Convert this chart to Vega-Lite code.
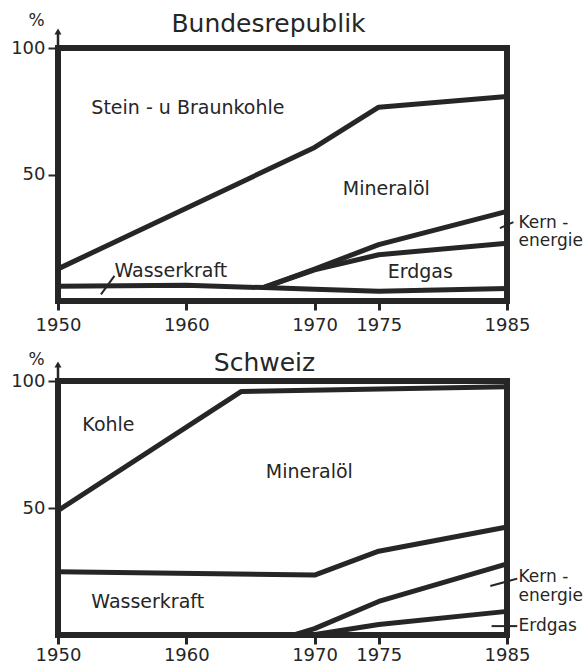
{
  "$schema": "https://vega.github.io/schema/vega-lite/v6.json",
  "background": "white",
  "padding": {"left": 7, "top": 8, "right": 0, "bottom": 0},
  "spacing": 10,
  "config": {
    "font": "DejaVu Sans",
    "view": {"stroke": "#262626", "strokeWidth": 6},
    "axis": {"grid": false, "domain": false, "tickColor": "#262626", "labelColor": "#262626", "labelFont": "DejaVu Sans", "labelFontSize": 18, "titleColor": "#262626", "titleFont": "DejaVu Sans", "titleFontWeight": "normal"},
    "title": {"fontSize": 25, "fontWeight": "normal", "color": "#262626", "font": "DejaVu Sans"},
    "text": {"font": "DejaVu Sans", "fontSize": 19, "color": "#262626"}
  },
  "datasets": {
    "lines": [
      {"panel": "B", "series": "Wasserkraft", "year": 1950, "value": 5.8},
      {"panel": "B", "series": "Wasserkraft", "year": 1960, "value": 6.2},
      {"panel": "B", "series": "Wasserkraft", "year": 1966, "value": 5.3},
      {"panel": "B", "series": "Wasserkraft", "year": 1970, "value": 4.6},
      {"panel": "B", "series": "Wasserkraft", "year": 1975, "value": 3.9},
      {"panel": "B", "series": "Wasserkraft", "year": 1985, "value": 4.9},
      {"panel": "B", "series": "Erdgas", "year": 1966, "value": 5.3},
      {"panel": "B", "series": "Erdgas", "year": 1970, "value": 12.3},
      {"panel": "B", "series": "Erdgas", "year": 1975, "value": 18.3},
      {"panel": "B", "series": "Erdgas", "year": 1985, "value": 22.8},
      {"panel": "B", "series": "Kernenergie", "year": 1966, "value": 5.3},
      {"panel": "B", "series": "Kernenergie", "year": 1970, "value": 12.6},
      {"panel": "B", "series": "Kernenergie", "year": 1975, "value": 22.3},
      {"panel": "B", "series": "Kernenergie", "year": 1985, "value": 35.4},
      {"panel": "B", "series": "Mineralöl", "year": 1950, "value": 12.7},
      {"panel": "B", "series": "Mineralöl", "year": 1970, "value": 60.7},
      {"panel": "B", "series": "Mineralöl", "year": 1975, "value": 76.6},
      {"panel": "B", "series": "Mineralöl", "year": 1985, "value": 80.8},
      {"panel": "S", "series": "Mineralöl", "year": 1950, "value": 49},
      {"panel": "S", "series": "Mineralöl", "year": 1964.3, "value": 95.9},
      {"panel": "S", "series": "Mineralöl", "year": 1985, "value": 97.7},
      {"panel": "S", "series": "Wasserkraft", "year": 1950, "value": 24.9},
      {"panel": "S", "series": "Wasserkraft", "year": 1970, "value": 23.6},
      {"panel": "S", "series": "Wasserkraft", "year": 1975, "value": 33},
      {"panel": "S", "series": "Wasserkraft", "year": 1985, "value": 42.5},
      {"panel": "S", "series": "Kernenergie", "year": 1968.4, "value": 0},
      {"panel": "S", "series": "Kernenergie", "year": 1970, "value": 2.5},
      {"panel": "S", "series": "Kernenergie", "year": 1975, "value": 13.2},
      {"panel": "S", "series": "Kernenergie", "year": 1985, "value": 28},
      {"panel": "S", "series": "Erdgas", "year": 1969.8, "value": 0},
      {"panel": "S", "series": "Erdgas", "year": 1975, "value": 4.1},
      {"panel": "S", "series": "Erdgas", "year": 1985, "value": 9.3}
    ],
    "labels": [
      {"panel": "B", "text": "Stein - u  Braunkohle", "year": 1952.6, "value": 76.3},
      {"panel": "B", "text": "Mineralöl", "year": 1972.2, "value": 44.3},
      {"panel": "B", "text": "Erdgas", "year": 1975.7, "value": 11.5},
      {"panel": "B", "text": "Wasserkraft", "year": 1954.4, "value": 12},
      {"panel": "B", "text": "Kern -", "year": 1985.9, "value": 31},
      {"panel": "B", "text": "energie", "year": 1985.9, "value": 23.6},
      {"panel": "S", "text": "Kohle", "year": 1951.9, "value": 82.7},
      {"panel": "S", "text": "Mineralöl", "year": 1966.2, "value": 64.3},
      {"panel": "S", "text": "Wasserkraft", "year": 1952.6, "value": 12.8},
      {"panel": "S", "text": "Kern -", "year": 1985.9, "value": 22.8},
      {"panel": "S", "text": "energie", "year": 1985.9, "value": 15.4},
      {"panel": "S", "text": "Erdgas", "year": 1985.9, "value": 3.4}
    ],
    "leaders": [
      {"panel": "B", "year": 1953.35, "value": 2.6, "year2": 1954.4, "value2": 9.9},
      {"panel": "B", "year": 1984.45, "value": 28.8, "year2": 1985.5, "value2": 31.2},
      {"panel": "S", "year": 1983.7, "value": 19.3, "year2": 1985.8, "value2": 22.2},
      {"panel": "S", "year": 1983.8, "value": 3.5, "year2": 1985.8, "value2": 3.5}
    ],
    "arrow": [
      {"year": 1950, "value": 100, "value2": 106.5}
    ]
  },
  "vconcat": [
    {
      "title": {"text": "Bundesrepublik", "dx": -14, "dy": 30},
      "width": 449,
      "height": 253,
      "layer": [
        {
          "data": {"name": "lines"},
          "transform": [{"filter": "datum.panel == 'B'"}],
          "mark": {"type": "line", "strokeWidth": 5, "color": "#262626", "strokeJoin": "round"},
          "encoding": {
            "x": {"field": "year", "type": "quantitative", "scale": {"domain": [1950, 1985], "nice": false, "zero": false},
                  "axis": {"values": [1950, 1960, 1970, 1975, 1985], "format": "d", "tickSize": 9, "tickWidth": 3, "labelPadding": 6, "title": null, "labelFlush": false}},
            "y": {"field": "value", "type": "quantitative", "scale": {"domain": [0, 100], "nice": false},
                  "axis": {"values": [50, 100], "tickSize": 10, "tickWidth": 2, "labelPadding": 3, "title": "%", "titleAngle": 0, "titleX": -22, "titleY": -28, "titleAlign": "center", "titleBaseline": "middle", "titleFontSize": 17}},
            "detail": {"field": "series"}
          }
        },
        {
          "data": {"name": "labels"},
          "transform": [{"filter": "datum.panel == 'B' && datum.year < 1985"}],
          "mark": {"type": "text", "align": "left", "baseline": "middle"},
          "encoding": {
            "x": {"field": "year", "type": "quantitative"},
            "y": {"field": "value", "type": "quantitative"},
            "text": {"field": "text"}
          }
        },
        {
          "data": {"name": "labels"},
          "transform": [{"filter": "datum.panel == 'B' && datum.year > 1985"}],
          "mark": {"type": "text", "align": "left", "baseline": "middle", "fontSize": 17},
          "encoding": {
            "x": {"field": "year", "type": "quantitative"},
            "y": {"field": "value", "type": "quantitative"},
            "text": {"field": "text"}
          }
        },
        {
          "data": {"name": "leaders"},
          "transform": [{"filter": "datum.panel == 'B'"}],
          "mark": {"type": "rule", "strokeWidth": 2, "color": "#262626"},
          "encoding": {
            "x": {"field": "year", "type": "quantitative"},
            "x2": {"field": "year2"},
            "y": {"field": "value", "type": "quantitative"},
            "y2": {"field": "value2"}
          }
        },
        {
          "data": {"name": "arrow"},
          "mark": {"type": "rule", "strokeWidth": 2.5, "color": "#262626"},
          "encoding": {
            "x": {"field": "year", "type": "quantitative"},
            "y": {"field": "value", "type": "quantitative"},
            "y2": {"field": "value2"}
          }
        },
        {
          "data": {"name": "arrow"},
          "mark": {"type": "point", "shape": "triangle-up", "filled": true, "size": 50, "color": "#262626", "opacity": 1},
          "encoding": {
            "x": {"field": "year", "type": "quantitative"},
            "y": {"field": "value2", "type": "quantitative"}
          }
        }
      ]
    },
    {
      "title": {"text": "Schweiz", "dx": -18, "dy": 30},
      "width": 449,
      "height": 254,
      "layer": [
        {
          "data": {"name": "lines"},
          "transform": [{"filter": "datum.panel == 'S'"}],
          "mark": {"type": "line", "strokeWidth": 5, "color": "#262626", "strokeJoin": "round"},
          "encoding": {
            "x": {"field": "year", "type": "quantitative", "scale": {"domain": [1950, 1985], "nice": false, "zero": false},
                  "axis": {"values": [1950, 1960, 1970, 1975, 1985], "format": "d", "tickSize": 9, "tickWidth": 3, "labelPadding": 2, "title": null, "labelFlush": false}},
            "y": {"field": "value", "type": "quantitative", "scale": {"domain": [0, 100], "nice": false},
                  "axis": {"values": [50, 100], "tickSize": 10, "tickWidth": 2, "labelPadding": 3, "title": "%", "titleAngle": 0, "titleX": -22, "titleY": -22, "titleAlign": "center", "titleBaseline": "middle", "titleFontSize": 17}},
            "detail": {"field": "series"}
          }
        },
        {
          "data": {"name": "labels"},
          "transform": [{"filter": "datum.panel == 'S' && datum.year < 1985"}],
          "mark": {"type": "text", "align": "left", "baseline": "middle"},
          "encoding": {
            "x": {"field": "year", "type": "quantitative"},
            "y": {"field": "value", "type": "quantitative"},
            "text": {"field": "text"}
          }
        },
        {
          "data": {"name": "labels"},
          "transform": [{"filter": "datum.panel == 'S' && datum.year > 1985"}],
          "mark": {"type": "text", "align": "left", "baseline": "middle", "fontSize": 17},
          "encoding": {
            "x": {"field": "year", "type": "quantitative"},
            "y": {"field": "value", "type": "quantitative"},
            "text": {"field": "text"}
          }
        },
        {
          "data": {"name": "leaders"},
          "transform": [{"filter": "datum.panel == 'S'"}],
          "mark": {"type": "rule", "strokeWidth": 2, "color": "#262626"},
          "encoding": {
            "x": {"field": "year", "type": "quantitative"},
            "x2": {"field": "year2"},
            "y": {"field": "value", "type": "quantitative"},
            "y2": {"field": "value2"}
          }
        },
        {
          "data": {"name": "arrow"},
          "mark": {"type": "rule", "strokeWidth": 2.5, "color": "#262626"},
          "encoding": {
            "x": {"field": "year", "type": "quantitative"},
            "y": {"field": "value", "type": "quantitative"},
            "y2": {"field": "value2"}
          }
        },
        {
          "data": {"name": "arrow"},
          "mark": {"type": "point", "shape": "triangle-up", "filled": true, "size": 50, "color": "#262626", "opacity": 1},
          "encoding": {
            "x": {"field": "year", "type": "quantitative"},
            "y": {"field": "value2", "type": "quantitative"}
          }
        }
      ]
    }
  ]
}
